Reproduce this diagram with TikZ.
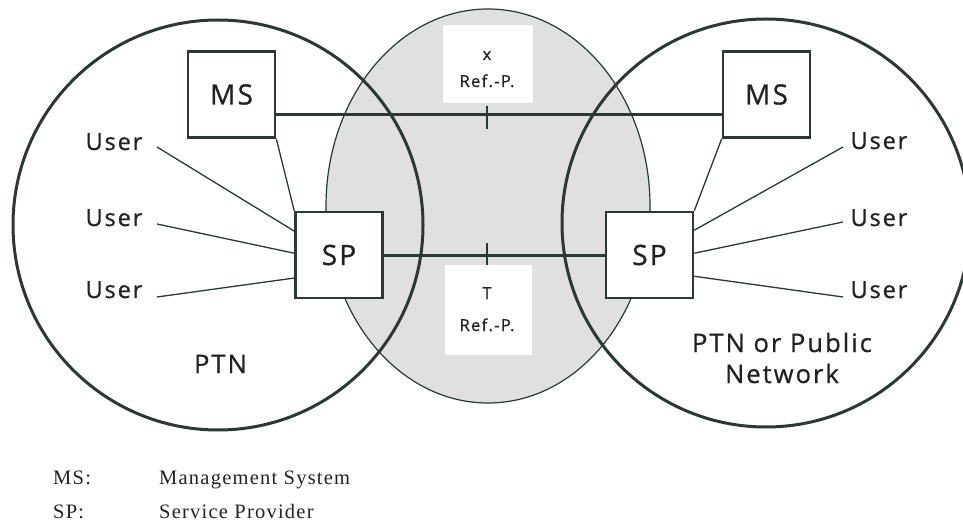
\documentclass[tikz,border=0pt]{standalone}
\usepackage{fontspec}
\setmainfont{Liberation Serif}
\newfontfamily\labfont[LetterSpace=8, FakeBold=0.8]{Open Sans}
\newfontfamily\legfont[LetterSpace=6]{Liberation Serif}
\usetikzlibrary{calc}
\definecolor{ink}{HTML}{2B3833}
\definecolor{dotgray}{HTML}{E0E0E0}
\definecolor{txt}{HTML}{222222}
\tikzset{
  box/.style={draw=ink, line width=2.6pt, fill=white, minimum width=87pt,
    minimum height=86pt, inner sep=0pt, font=\labfont\fontsize{28}{30}\selectfont, text=txt},
  user/.style={anchor=base, inner sep=0pt, font=\labfont\fontsize{23.5}{25}\selectfont, text=txt},
  reflab/.style={anchor=base, inner sep=0pt, font=\labfont\fontsize{16.5}{18}\selectfont, text=txt},
  netlab/.style={anchor=base, inner sep=0pt, font=\labfont\fontsize{25.5}{27}\selectfont, text=txt},
  legend/.style={anchor=base west, inner sep=0pt, font=\legfont\fontsize{20.5}{22}\selectfont, text=txt},
  trunk/.style={draw=ink, line width=3pt},
  thin link/.style={draw=ink, line width=1.3pt},
  refmark/.style={draw=ink, line width=2.6pt},
  netring/.style={draw=ink, line width=3pt}
}
\begin{document}
\begin{tikzpicture}[x=1pt, y=-1pt]
\useasboundingbox (0,0) rectangle (963,521);

% shaded reference-point zone
\fill[dotgray] (488,206) ellipse [x radius=162, y radius=197];
\draw[ink, line width=1.2pt] (488,206) ellipse [x radius=162, y radius=197];
\fill[white] (443,25) rectangle (533,103);
\fill[white] (445,265) rectangle (532,355);

% the two networks
\draw[netring] (218,225) circle [radius=205];
\draw[netring] (766,223) circle [radius=204];

% reference-point labels
\node[reflab] (xlab) at (487,60) {x};
\node[reflab] (xref) at (487,87) {Ref.-P.};
\node[reflab] (tlab) at (487,299) {T};
\node[reflab] (tref) at (487,331) {Ref.-P.};

% boxes
\node[box] (msL) at (231.5,94.5) {MS};
\node[box] (spL) at (339,255) {SP};
\node[box] (msR) at (766.5,94.5) {MS};
\node[box] (spR) at (649.5,255) {SP};

% inter-network links with reference-point marks
\coordinate (xpt) at (487,115);
\coordinate (tpt) at (487,256);
\draw[trunk] (msL.east |- xpt) -- (msR.west |- xpt);
\draw[trunk] (spL.east |- tpt) -- (spR.west |- tpt);
\draw[refmark] ($(xpt)+(0,-9)$) -- ($(xpt)+(0,14)$);
\draw[refmark] ($(tpt)+(0,-13)$) -- ($(tpt)+(0,9)$);

% MS to SP links
\draw[thin link] (msL.south east) -- (spL.north west);
\draw[thin link] (msR.south west) -- (spR.north east);

% users, left network
\node[user] (uL1) at (114,150) {User};
\node[user] (uL2) at (114,226) {User};
\node[user] (uL3) at (114,298) {User};
\coordinate (aL1) at (157,147);
\coordinate (aL2) at (157,224);
\coordinate (aL3) at (157,297);
\draw[thin link] (aL1) -- ($(spL.north west)!0.23!(spL.south west)$);
\draw[thin link] (aL2) -- ($(spL.north west)!0.48!(spL.south west)$);
\draw[thin link] (aL3) -- ($(spL.north west)!0.76!(spL.south west)$);

% users, right network
\node[user] (uR1) at (879,149) {User};
\node[user] (uR2) at (879,226) {User};
\node[user] (uR3) at (879,298) {User};
\coordinate (aR1) at (843,147);
\coordinate (aR2) at (843,222);
\coordinate (aR3) at (843,297);
\draw[thin link] (aR1) -- ($(spR.north east)!0.22!(spR.south east)$);
\draw[thin link] (aR2) -- ($(spR.north east)!0.48!(spR.south east)$);
\draw[thin link] (aR3) -- ($(spR.north east)!0.74!(spR.south east)$);

% network names
\node[netlab] (ptnL) at (220.5,373) {PTN};
\node[netlab] (ptnR1) at (782,352) {PTN or Public};
\node[netlab] (ptnR2) at (782,383) {Network};

% legend
\node[legend] (kMS) at (53,484) {MS:};
\node[legend] (dMS) at (159,484) {Management System};
\node[legend] (kSP) at (53,518) {SP:};
\node[legend] (dSP) at (159,518) {Service Provider};
\end{tikzpicture}
\end{document}
